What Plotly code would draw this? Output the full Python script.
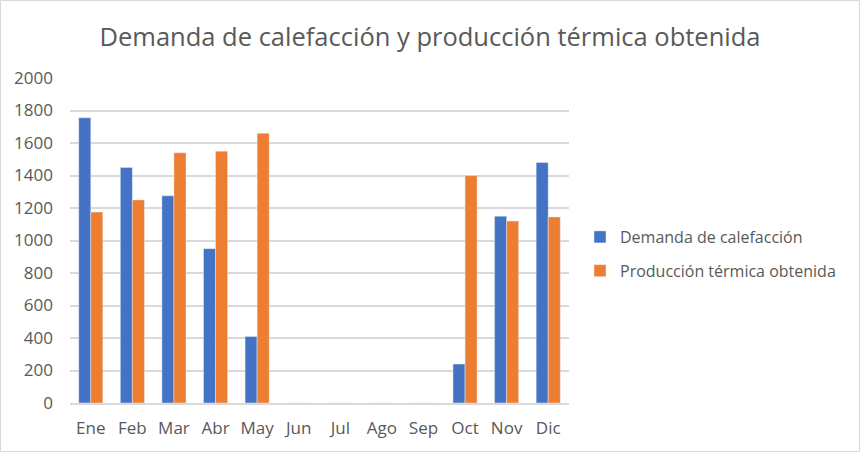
import plotly.graph_objects as go

months = ["Ene", "Feb", "Mar", "Abr", "May", "Jun", "Jul", "Ago", "Sep", "Oct", "Nov", "Dic"]
demanda = [1755, 1450, 1275, 950, 410, 0, 0, 0, 0, 240, 1150, 1480]
produccion = [1175, 1250, 1540, 1550, 1660, 0, 0, 0, 0, 1400, 1120, 1145]
y_ticks = [0, 200, 400, 600, 800, 1000, 1200, 1400, 1600, 1800, 2000]

FONT = "Open Sans"
GRAY = "#595959"

fig = go.Figure()
fig.add_trace(go.Bar(x=months, y=demanda, name="Demanda de calefacción",
                     marker_color="#4472C4", legendgroup="a"))
fig.add_trace(go.Bar(x=months, y=produccion, name="Producción térmica obtenida",
                     marker_color="#ED7D31", legendgroup="b"))

W, H = 860, 452
ml, mr, mt, mb = 70, 291, 78, 49
pw, ph = W - ml - mr, H - mt - mb

def px_x(x):
    return (x - ml) / pw

def px_y(y):
    return (H - mb - y) / ph

fig.update_layout(
    width=W, height=H,
    margin=dict(l=ml, r=mr, t=mt, b=mb),
    paper_bgcolor="white", plot_bgcolor="white",
    barmode="group", bargap=0.42, bargroupgap=0,
    font=dict(family=FONT, color=GRAY, size=16),
    title=dict(text="Demanda de calefacción y producción térmica obtenida",
               x=0.5, xref="container", xanchor="center",
               y=1 - 37 / H, yref="container", yanchor="middle",
               font=dict(family=FONT, size=25.5, color=GRAY)),
    showlegend=True,
    legend=dict(x=px_x(580), xanchor="left", y=px_y(220), yanchor="top",
                font=dict(family=FONT, size=16, color=GRAY),
                itemwidth=30, tracegroupgap=10, bgcolor="rgba(0,0,0,0)"),
    xaxis=dict(showgrid=False, showline=True, linecolor="#d9d9d9", linewidth=1.5,
               ticks="", ticklabelstandoff=9, tickfont=dict(size=17, color=GRAY)),
    yaxis=dict(range=[0, 2000], tickvals=y_ticks, showgrid=True, gridcolor="#d9d9d9",
               gridwidth=1.5, zeroline=False, showline=False, ticks="",
               ticklabelstandoff=16, tickfont=dict(size=17, color=GRAY)),
    shapes=[dict(type="rect", xref="paper", yref="paper",
                 x0=px_x(0.5), x1=px_x(859.5), y0=px_y(0.5), y1=px_y(451.5),
                 line=dict(color="#d9d9d9", width=1), layer="below")],
)

fig.write_html("out.html", config={"displayModeBar": False},
               post_script="document.body.style.margin='0';document.body.style.overflow='hidden';")
